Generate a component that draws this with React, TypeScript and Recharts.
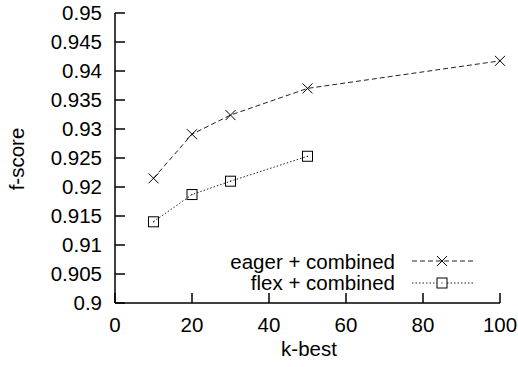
import React from "react";
import { LineChart, Line, XAxis, YAxis } from "recharts";

const kEager = [10, 20, 30, 50, 100];
const eagerScores = [0.9215, 0.9291, 0.9324, 0.937, 0.94175];
const kFlex = [10, 20, 30, 50];
const flexScores = [0.914, 0.9187, 0.921, 0.9253];
const xTicks = [0, 20, 40, 60, 80, 100];
const yTicks = [0.9, 0.905, 0.91, 0.915, 0.92, 0.925, 0.93, 0.935, 0.94, 0.945, 0.95];
const seriesNames = ["eager + combined", "flex + combined"];

const eagerData = kEager.map((k, i) => ({ k, score: eagerScores[i] }));
const flexData = kFlex.map((k, i) => ({ k, score: flexScores[i] }));

const FONT = "'Liberation Sans', Arial, sans-serif";
const FS = 20.5;
const TICK = 10;

const fmtY = (v: number) => String(parseFloat(v.toFixed(3)));

const LeftTick = (p: any) => (
  <g>
    <line x1={p.x} x2={p.x + TICK} y1={p.y} y2={p.y} stroke="#000" strokeWidth={1.5} />
    <text x={p.x - 13} y={p.y} dy="0.36em" textAnchor="end" fontSize={FS} fontFamily={FONT} fill="#000">
      {fmtY(p.payload.value)}
    </text>
  </g>
);

const RightTick = (p: any) => (
  <line x1={p.x - TICK} x2={p.x} y1={p.y} y2={p.y} stroke="#000" strokeWidth={1.5} />
);

const BottomTick = (p: any) => (
  <g>
    <line x1={p.x} x2={p.x} y1={p.y} y2={p.y - TICK} stroke="#000" strokeWidth={1.5} />
    <text x={p.x} y={p.y + 29} textAnchor="middle" fontSize={FS} fontFamily={FONT} fill="#000">
      {p.payload.value}
    </text>
  </g>
);

const TopTick = (p: any) => (
  <line x1={p.x} x2={p.x} y1={p.y} y2={p.y + TICK} stroke="#000" strokeWidth={1.5} />
);

const Cross = ({ cx, cy }: any) =>
  cx == null ? null : (
    <g stroke="#000" strokeWidth={1}>
      <line x1={cx - 5} y1={cy - 5} x2={cx + 5} y2={cy + 5} />
      <line x1={cx - 5} y1={cy + 5} x2={cx + 5} y2={cy - 5} />
    </g>
  );

const Box = ({ cx, cy }: any) =>
  cx == null ? null : (
    <g>
      <rect x={cx - 5} y={cy - 5} width={10} height={10} fill="none" stroke="#000" strokeWidth={1} />
      <rect x={cx - 0.5} y={cy - 0.5} width={1} height={1} fill="#000" />
    </g>
  );

export default function App() {
  return (
    <div style={{ position: "absolute", left: 0, top: 0, width: 518, height: 367, background: "#fff" }}>
      <LineChart width={518} height={367} margin={{ top: 13, right: 18, bottom: 0, left: 0 }}>
        <XAxis
          xAxisId="b"
          dataKey="k"
          type="number"
          domain={[0, 100]}
          ticks={xTicks}
          orientation="bottom"
          height={64}
          tickSize={0}
          tickMargin={0}
          tick={<BottomTick />}
          axisLine={{ stroke: "#000", strokeWidth: 1.5 }}
          tickLine={false}
          allowDuplicatedCategory={false}
        />
        <XAxis
          xAxisId="t"
          dataKey="k"
          type="number"
          domain={[0, 100]}
          ticks={xTicks}
          orientation="top"
          height={0}
          tickSize={0}
          tickMargin={0}
          tick={<TopTick />}
          axisLine={{ stroke: "#000", strokeWidth: 1.5 }}
          tickLine={false}
        />
        <YAxis
          yAxisId="l"
          type="number"
          domain={[0.9, 0.95]}
          ticks={yTicks}
          width={115}
          tickSize={0}
          tickMargin={0}
          tick={<LeftTick />}
          axisLine={{ stroke: "#000", strokeWidth: 1.5 }}
          tickLine={false}
          interval={0}
        />
        <YAxis
          yAxisId="r"
          orientation="right"
          type="number"
          domain={[0.9, 0.95]}
          ticks={yTicks}
          width={0}
          tickSize={0}
          tickMargin={0}
          tick={<RightTick />}
          axisLine={{ stroke: "#000", strokeWidth: 1.5 }}
          tickLine={false}
          interval={0}
        />
        <Line
          xAxisId="b"
          yAxisId="l"
          data={eagerData}
          dataKey="score"
          name={seriesNames[0]}
          stroke="#222"
          strokeWidth={1}
          strokeDasharray="5 3"
          dot={<Cross />}
          activeDot={false}
          isAnimationActive={false}
        />
        <Line
          xAxisId="b"
          yAxisId="l"
          data={flexData}
          dataKey="score"
          name={seriesNames[1]}
          stroke="#222"
          strokeWidth={1}
          strokeDasharray="1.5 2"
          dot={<Box />}
          activeDot={false}
          isAnimationActive={false}
        />
        <text x={309} y={356} textAnchor="middle" fontSize={FS} fontFamily={FONT} fill="#000">
          k-best
        </text>
        <text
          x={24}
          y={159}
          textAnchor="middle"
          fontSize={FS}
          fontFamily={FONT}
          fill="#000"
          transform="rotate(-90 24 159)"
        >
          f-score
        </text>
      </LineChart>
      <svg width={518} height={367} style={{ position: "absolute", left: 0, top: 0, pointerEvents: "none" }}>
        <text x={395} y={269} textAnchor="end" fontSize={FS} fontFamily={FONT} fill="#000">
          {seriesNames[0]}
        </text>
        <line x1={412} x2={473} y1={261} y2={261} stroke="#222" strokeDasharray="5 3" />
        <Cross cx={442} cy={261} />
        <text x={395} y={290} textAnchor="end" fontSize={FS} fontFamily={FONT} fill="#000">
          {seriesNames[1]}
        </text>
        <line x1={412} x2={473} y1={283} y2={283} stroke="#222" strokeDasharray="1.5 2" />
        <rect x={437} y={278} width={10} height={10} fill="#fff" stroke="none" />
        <Box cx={442} cy={283} />
      </svg>
    </div>
  );
}
